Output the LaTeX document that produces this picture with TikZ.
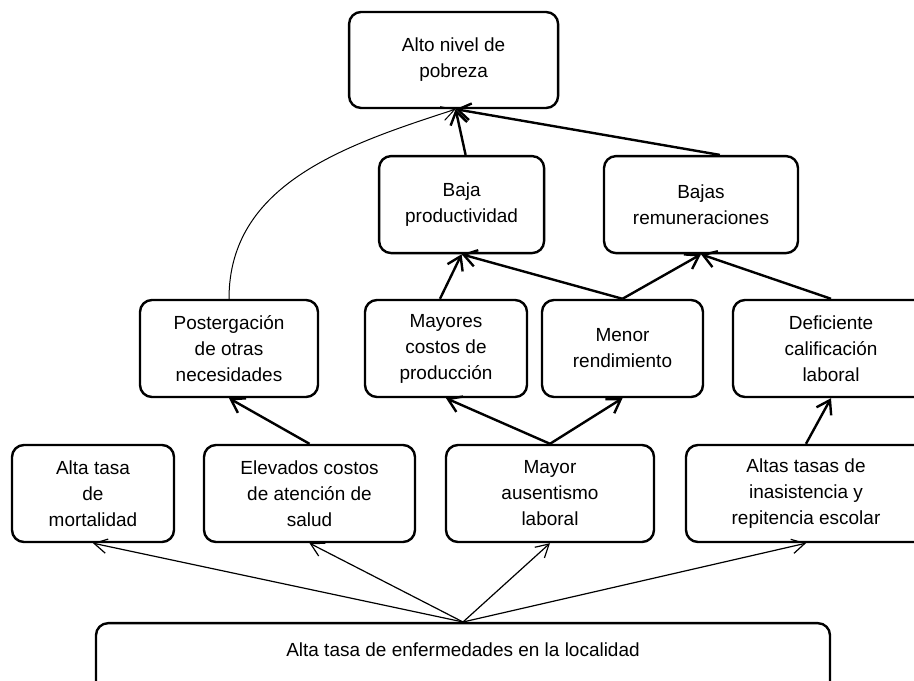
\documentclass[tikz,border=0pt]{standalone}
\usepackage{fontspec}
\setmainfont{Liberation Sans}
\usetikzlibrary{arrows.meta}

\begin{document}
\begin{tikzpicture}[
		caja/.style={draw, line width = 0.6mm, rounded corners=0.3cm, align=center,
			minimum height=2.425cm, inner sep=0pt, font=\fontsize{13.5}{18.5}\selectfont},
		flecha/.style={line width = 0.6mm, -{Straight Barb[length=3.2mm,width=4.2mm]}},
		flechita/.style={line width = 0.3mm, -{Straight Barb[length=3.2mm,width=3.6mm]}}
	]
	\useasboundingbox (0,0) rectangle (22.85,17.025);
	\clip (0,0) rectangle (22.85,17.025);
	
	% nivel superior
	\node[caja, minimum width=5.225cm, minimum height=2.4cm] (pob) at (11.34,15.525) {Alto nivel de\\pobreza};
	
	\node[caja, minimum width=4.125cm] (prod) at (11.54,11.91) {Baja\\productividad};
	\node[caja, minimum width=4.85cm] (rem) at (17.525,11.91) {Bajas\\remuneraciones};
	
	% efectos intermedios
	\node[caja, minimum width=4.45cm] (post) at (5.725,8.3125) {Postergación\\de otras\\necesidades};
	\node[caja, minimum width=4.05cm] (cost) at (11.15,8.3125) {Mayores\\costos de\\producción};
	\node[caja, minimum width=4.025cm] (rend) at (15.5625,8.3125) {Menor\\rendimiento};
	\node[caja, minimum width=4.9cm] (calif) at (20.775,8.3125) {Deficiente\\calificación\\laboral};
	
	% efectos directos
	\node[caja, minimum width=4.05cm] (mort) at (2.325,4.6875) {Alta tasa\\de\\mortalidad};
	\node[caja, minimum width=5.275cm] (salud) at (7.7375,4.6875) {Elevados costos\\de atención de\\salud};
	\node[caja, minimum width=5.2cm] (aus) at (13.75,4.6875) {Mayor\\ausentismo\\laboral};
	\node[caja, minimum width=6cm] (esc) at (20.15,4.6875) {Altas tasas de\\inasistencia y\\repitencia escolar};
	
	% problema central
	\node[caja, minimum width=18.35cm, minimum height=0pt, text height=0.825cm, text depth=1cm,
		anchor=north] (enf) at (11.575,1.475) {Alta tasa de enfermedades en la localidad};
	
	\draw[flechita] (enf.north) -- (mort.south);
	\draw[flechita] (enf.north) -- (salud.south);
	\draw[flechita] (enf.north) -- (aus.south);
	\draw[flechita] (enf.north) -- (esc.south);
	
	\draw[flecha] (salud.north) -- (post.south);
	\draw[flecha] (aus.north) -- (cost.south);
	\draw[flecha] (aus.north) -- (rend.south);
	\draw[flecha] (esc.north) -- (calif.south);
	
	\draw[flecha] ([xshift=-0.15cm]cost.north) -- (prod.south);
	\draw[flecha] (rend.north) -- (prod.south);
	\draw[flecha] (rend.north) -- (rem.south);
	\draw[flecha] (calif.north) -- (rem.south);
	
	\draw[flecha] ([xshift=0.1cm]prod.north) -- ([xshift=0.05cm]pob.south);
	\draw[flecha] ([xshift=0.47cm]rem.north) -- ([xshift=0.05cm]pob.south);
	\draw[flechita, line width = 0.25mm] (post.north) to[out=90, in=198] ([xshift=0.05cm]pob.south);
\end{tikzpicture}
\end{document}
